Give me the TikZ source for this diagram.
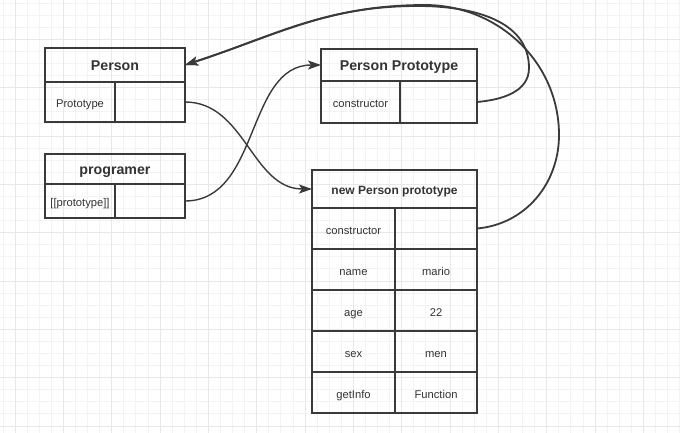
\documentclass[tikz,border=0pt]{standalone}
\usepackage{fontspec}
\setmainfont{Liberation Sans}
\usetikzlibrary{positioning}
\usetikzlibrary{arrows.meta}

\definecolor{linec}{HTML}{3A3A3A}
\definecolor{textc}{HTML}{333333}
\definecolor{gridminor}{HTML}{F3F3F3}
\definecolor{gridmajor}{HTML}{E8E8E8}

\tikzset{
  head/.style={draw=linec, line width=1.4pt, outer sep=0pt, inner sep=0pt, anchor=north west,
    text=textc, text height=1.28em, text depth=0.14em, font=\bfseries\fontsize{14.2}{17}\selectfont},
  cell/.style={draw=linec, line width=1.4pt, outer sep=0pt, inner sep=0pt,
    text=textc, text height=1.32em, text depth=0.18em, font=\fontsize{11.2}{13}\selectfont},
  link/.style={draw=linec, line width=1.4pt, -{Stealth[length=13pt,width=9pt,inset=3pt]}},
  backlink/.style={link, line width=1.8pt}
}

\begin{document}
\begin{tikzpicture}[x=1pt, y=-1pt]
    \useasboundingbox (0,0) rectangle (680,433);
    % grid
    \foreach \i in {0,...,56} {
        \draw[gridminor, line width=0.8pt] (2.92+\i*12.083,0) -- (2.92+\i*12.083,433);
    }
    \foreach \i in {0,...,36} {
        \draw[gridminor, line width=0.8pt] (0,3.05+\i*12.083) -- (680,3.05+\i*12.083);
    }
    \foreach \i in {0,...,14} {
        \draw[gridmajor, line width=0.9pt] (15+\i*48.33,0) -- (15+\i*48.33,433);
    }
    \foreach \i in {0,...,9} {
        \draw[gridmajor, line width=0.9pt] (0,-9+\i*48.33) -- (680,-9+\i*48.33);
    }

    % Person
    \node[head, minimum width=140pt, minimum height=34pt] (personHead) at (45,48) {Person};
    \node[cell, minimum width=70pt, minimum height=40pt, below right=0pt and 0pt of personHead.south west] (personKey) {Prototype};
    \node[cell, minimum width=70pt, minimum height=40pt, right=0pt of personKey] (personVal) {};

    % programer
    \node[head, minimum width=140pt, minimum height=30pt] (progHead) at (45,154) {programer};
    \node[cell, minimum width=70pt, minimum height=34pt, below right=0pt and 0pt of progHead.south west] (progKey) {[[prototype]]};
    \node[cell, minimum width=70pt, minimum height=34pt, right=0pt of progKey] (progVal) {};

    % Person Prototype
    \node[head, minimum width=156pt, minimum height=32pt] (protoHead) at (321,49) {Person Prototype};
    \node[cell, minimum width=79pt, minimum height=42pt, below right=0pt and 0pt of protoHead.south west] (protoKey) {constructor};
    \node[cell, minimum width=77pt, minimum height=42pt, right=0pt of protoKey] (protoVal) {};

    % new Person prototype
    \node[head, minimum width=165pt, minimum height=38pt, font=\bfseries\fontsize{12}{14}\selectfont] (newHead) at (312,170) {new Person prototype};
    \node[cell, minimum width=83pt, minimum height=41pt, below right=0pt and 0pt of newHead.south west] (consKey) {constructor};
    \node[cell, minimum width=82pt, minimum height=41pt, right=0pt of consKey] (consVal) {};
    \node[cell, minimum width=83pt, minimum height=41pt, below=0pt of consKey] (nameKey) {name};
    \node[cell, minimum width=82pt, minimum height=41pt, right=0pt of nameKey] (nameVal) {mario};
    \node[cell, minimum width=83pt, minimum height=41pt, below=0pt of nameKey] (ageKey) {age};
    \node[cell, minimum width=82pt, minimum height=41pt, right=0pt of ageKey] (ageVal) {22};
    \node[cell, minimum width=83pt, minimum height=41pt, below=0pt of ageKey] (sexKey) {sex};
    \node[cell, minimum width=82pt, minimum height=41pt, right=0pt of sexKey] (sexVal) {men};
    \node[cell, minimum width=83pt, minimum height=41pt, below=0pt of sexKey] (infoKey) {getInfo};
    \node[cell, minimum width=82pt, minimum height=41pt, right=0pt of infoKey] (infoVal) {Function};

    % bends of the two back links
    \coordinate (bendA) at (529,68);
    \coordinate (topA) at (418,6);
    \coordinate (bendB) at (559,135);
    \coordinate (topB) at (425,5);

    \draw[link] (personVal.east) to[out=0, in=180] (newHead.west);
    \draw[link] (progVal.east) to[out=0, in=180] (protoHead.west);
    \draw[backlink] (protoVal.east) to[out=5, in=-90] (bendA) to[out=90, in=0] (topA) to[out=180, in=18] (personHead.east);
    \draw[backlink] (consVal.east) to[out=5, in=-90] (bendB) to[out=90, in=0] (topB) to[out=180, in=18] (personHead.east);
\end{tikzpicture}
\end{document}
